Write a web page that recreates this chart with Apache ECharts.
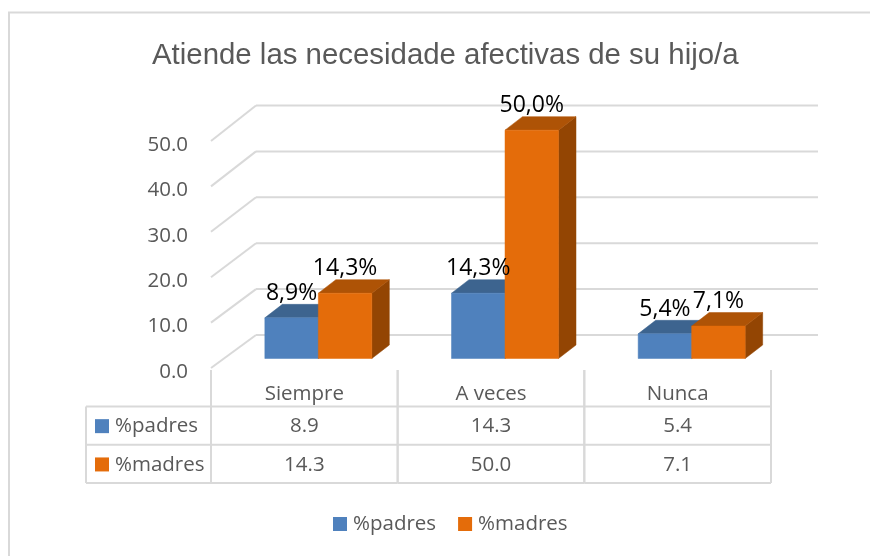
<!DOCTYPE html>
<html><head><meta charset="utf-8">
<style>html,body{margin:0;padding:0;background:#fff}#c{width:870px;height:556px}</style>
<script src="https://cdn.jsdelivr.net/npm/echarts@6/dist/echarts.min.js"></script>
</head><body><div id="c"></div>
<script>
const titleText = 'Atiende las necesidade afectivas de su hijo/a';
const categories = ['Siempre', 'A veces', 'Nunca'];
const seriesNames = ['%padres', '%madres'];
const padres = [8.9, 14.3, 5.4];
const madres = [14.3, 50.0, 7.1];
const yTicks = [0, 10, 20, 30, 40, 50];

const FONT = '"Open Sans"';
const GREY = '#595959', LINE = '#d9d9d9';
const faces = [
  {front:'#4f81bd', top:'#3d648f', side:'#33547a'},
  {front:'#e46c0a', top:'#ae5306', side:'#934503'}
];
const DX = 45, DY = -33;          // wall depth
const BASE_UP = 9.5, BAR_DEPTH_X = 17.5, BAR_DEPTH_Y = -13.5, BAR_SHIFT = 14, BAR_W = 53.5;
const rowTop = 406.5, rowH = 38.3, tableLeft = 86;

function poly(pts, fill){ return {type:'polygon', shape:{points:pts}, style:{fill:fill, stroke:fill, lineWidth:0.5}}; }
function hline(x1,y1,x2,y2,w){ return {type:'line', shape:{x1,y1,x2,y2}, style:{stroke:LINE, lineWidth:w||2, fill:null}}; }

function wallItem(params, api){
  const v = api.value(0);
  const p = api.coord([0, v]);
  const q = api.coord([categories.length - 1, v]);
  const band = api.size([1,0])[0];
  const x0 = p[0] - band/2, x1 = q[0] + band/2, y = p[1];
  const extra = -(v/50)*2.5;
  return {type:'group', silent:true, children:[
    hline(x0, y, x0+DX, y+DY+extra),
    hline(x0+DX, y+DY+extra, x1+DX+2, y+DY+extra)
  ]};
}

function barBox(s, api){
  const i = api.value(0), v = api.value(1);
  const c = api.coord([i, 0]), t = api.coord([i, v]);
  const bl = c[0] + BAR_SHIFT - BAR_W + s*BAR_W, br = bl + BAR_W;
  const by = c[1] - BASE_UP, ty = by - (c[1]-t[1])*1.006;
  return {v, bl, br, by, ty};
}

function barItem(s){
  return function(params, api){
    const {bl, br, by, ty} = barBox(s, api);
    const dx = BAR_DEPTH_X, dy = BAR_DEPTH_Y, f = faces[s];
    return {type:'group', children:[
      poly([[br,by],[br+dx,by+dy],[br+dx,ty+dy],[br,ty]], f.side),
      poly([[bl,ty],[bl+dx,ty+dy],[br+dx,ty+dy],[br,ty]], f.top),
      poly([[bl,by],[br,by],[br,ty],[bl,ty]], f.front)
    ]};
  };
}

function labelItem(s){
  return function(params, api){
    const {v, bl, br, ty} = barBox(s, api);
    return {type:'text', silent:true, style:{text:v.toFixed(1).replace('.',',')+'%', x:(bl+br)/2, y:ty-24.5,
      align:'center', verticalAlign:'middle', fill:'#000', font:'23px '+FONT}};
  };
}

function tableItem(params, api){
  const ci = params.dataIndex;
  const c = api.coord([ci,0]);
  const band = api.size([1,0])[0];
  const xl = c[0]-band/2, xr = c[0]+band/2, yTop = c[1]+2;
  const rows = [padres, madres];
  const kids = [
    hline(xl, yTop, xl, rowTop+rowH*2),
    hline(xr, yTop, xr, rowTop+rowH*2)
  ];
  const lastX = ci === 0 ? tableLeft : xl;
  kids.push(hline(lastX, rowTop, xr, rowTop));
  rows.forEach((r, ri) => {
    const yb = rowTop + rowH*(ri+1), ym = yb - rowH/2;
    kids.push(hline(lastX, yb, xr, yb));
    kids.push({type:'text', style:{text:r[ci].toFixed(1), x:c[0], y:ym+1, align:'center', verticalAlign:'middle', fill:GREY, font:'20.5px '+FONT}});
    if (ci === 0) {
      kids.push({type:'rect', shape:{x:tableLeft+9, y:ym-6.5, width:14, height:14}, style:{fill:faces[ri].front}});
      kids.push({type:'text', style:{text:seriesNames[ri], x:tableLeft+29, y:ym+1, align:'left', verticalAlign:'middle', fill:GREY, font:'20.5px '+FONT}});
    }
  });
  if (ci === 0) kids.push(hline(tableLeft, rowTop, tableLeft, rowTop+rowH*2));
  return {type:'group', silent:true, children:kids};
}

const chart = echarts.init(document.getElementById('c'), null, {renderer:'canvas'});
chart.setOption({
  animation:false,
  backgroundColor:'#fff',
  title:{text:titleText, left:152, top:41, padding:0,
    textStyle:{fontFamily:'"Liberation Sans"', fontSize:29.4, fontWeight:'normal', color:GREY}},
  legend:{data:seriesNames, left:333, top:513.5, padding:0, itemWidth:14, itemHeight:14, itemGap:22, itemStyle:{borderWidth:0}, icon:'rect',
    textStyle:{fontFamily:FONT, fontSize:20.5, color:GREY, padding:[0,0,0,1]}, selectedMode:false},
  grid:{left:211, right:99, top:141, bottom:188},
  xAxis:{type:'category', data:categories, axisLine:{show:false}, axisTick:{show:false},
    axisLabel:{fontFamily:FONT, fontSize:20.5, color:GREY, margin:16}},
  yAxis:{type:'value', min:0, max:50, interval:10, axisLine:{show:false}, axisTick:{show:false}, splitLine:{show:false},
    axisLabel:{fontFamily:FONT, fontSize:20.5, color:GREY, margin:23, verticalAlign:'top', lineHeight:8, formatter:v=>v.toFixed(1)}},
  graphic:[{type:'polyline', silent:true, shape:{points:[[9,560],[9,12.5],[875,12.5]]}, style:{fill:'none',stroke:LINE,lineWidth:2}}],
  series:[
    {type:'custom', name:'walls', z:1, renderItem:wallItem, data:yTicks.map(v=>[v]), encode:{y:0}, silent:true},
    {type:'custom', name:'table', z:1, renderItem:tableItem, data:categories.map((c,i)=>[i]), encode:{x:0}, silent:true},
    {type:'custom', name:seriesNames[0], z:2, renderItem:barItem(0), data:padres.map((v,i)=>[i,v]), encode:{x:0,y:1}, itemStyle:{color:faces[0].front}},
    {type:'custom', name:seriesNames[1], z:3, renderItem:barItem(1), data:madres.map((v,i)=>[i,v]), encode:{x:0,y:1}, itemStyle:{color:faces[1].front}},
    {type:'custom', name:seriesNames[0]+' etiquetas', z:5, renderItem:labelItem(0), data:padres.map((v,i)=>[i,v]), encode:{x:0,y:1}, silent:true},
    {type:'custom', name:seriesNames[1]+' etiquetas', z:5, renderItem:labelItem(1), data:madres.map((v,i)=>[i,v]), encode:{x:0,y:1}, silent:true}
  ]
});
</script></body></html>
